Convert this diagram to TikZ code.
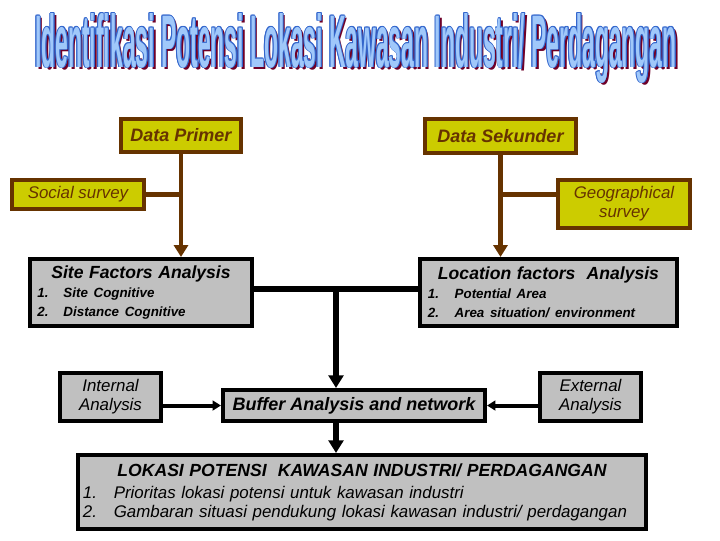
\documentclass[tikz,border=0pt]{standalone}
\usepackage{fontspec}
\usepackage{graphicx}
\setmainfont{Liberation Sans}
\usetikzlibrary{arrows.meta,positioning}

\definecolor{coklat}{RGB}{102,51,0}
\definecolor{kuningbox}{RGB}{204,204,0}
\definecolor{abubox}{RGB}{192,192,192}
\definecolor{judulisi}{RGB}{160,200,250}
\definecolor{judultepi}{RGB}{51,102,204}
\definecolor{judulbayang}{RGB}{110,0,40}

\newcommand{\judul}{\resizebox{456pt}{38.4pt}{\bfseries Identifikasi Potensi Lokasi Kawasan Industri/ Perdagangan}}
% satu lapis judul, digeser #1 ke kanan dan #2 ke atas
\newcommand{\lapis}[3]{\makebox[0pt][l]{\hspace{#1}\raisebox{#2}{\textcolor{#3}{\judul}}}}

\begin{document}
\begin{tikzpicture}[x=0.025cm,y=-0.025cm,
    kuning/.style={draw=coklat,fill=kuningbox,line width=2.85pt,text=coklat,inner sep=0pt,align=center,font=\itshape\fontsize{12}{13.5}\selectfont},
    abu/.style={draw=black,fill=abubox,line width=2.85pt,inner sep=0pt,align=center,font=\itshape\fontsize{12}{13.5}\selectfont},
    daftar/.style={abu,align=left,inner ysep=0pt},
    garis coklat/.style={coklat,line width=3.5pt},
    garis hitam/.style={black,line width=4.3pt},
    panah coklat/.style={garis coklat,-{Triangle[width=10pt,length=8.5pt]}},
    panah hitam/.style={garis hitam,-{Triangle[width=10.5pt,length=9pt]}},
    panah tipis/.style={black,line width=2.85pt,-{Triangle[width=7pt,length=6pt]}}]
\useasboundingbox (0,0) rectangle (720,540);

% judul
\node[anchor=base west,inner sep=0pt] (judul) at (35,67)
  {\lapis{1.8pt}{-1.8pt}{judulbayang}\lapis{-0.6pt}{0pt}{judultepi}\lapis{0.6pt}{0pt}{judultepi}%
   \lapis{0pt}{0.6pt}{judultepi}\lapis{0pt}{-0.6pt}{judultepi}\lapis{0.45pt}{0.45pt}{judultepi}%
   \lapis{-0.45pt}{-0.45pt}{judultepi}\lapis{0.45pt}{-0.45pt}{judultepi}\lapis{-0.45pt}{0.45pt}{judultepi}%
   \textcolor{judulisi}{\judul}};

% data
\node[kuning,minimum width=3.0cm,minimum height=0.825cm,font=\itshape\bfseries\fontsize{12.8}{15}\selectfont] (dp) at (181,135.5) {Data Primer};
\node[kuning,minimum width=3.775cm,minimum height=0.85cm,font=\itshape\bfseries\fontsize{12.8}{15}\selectfont] (ds) at (500.5,136) {Data Sekunder};
\node[kuning,minimum width=3.3cm,minimum height=0.725cm] (ss) at (78,194.5) {Social survey};
\node[kuning,minimum width=3.3cm,minimum height=1.2cm] (gs) at (624,204) {Geographical\\survey};

% analisis
\node[daftar,minimum height=1.675cm,inner xsep=0.175cm,text width=5.175cm] (sf) at (141,292.5)
  {{\centering\fontsize{12.5}{15}\selectfont\bfseries Site Factors Analysis\par}
   \fontsize{9.5}{13.5}\selectfont\bfseries
   \makebox[18.5pt][l]{1.}Site Cognitive\par
   \makebox[18.5pt][l]{2.}Distance Cognitive};
\node[daftar,minimum height=1.675cm,inner xsep=0.2cm,text width=6.025cm] (lf) at (548.5,292.5)
  {{\centering\fontsize{12.5}{15}\selectfont\bfseries Location factors\ \ Analysis\par}
   \fontsize{9.5}{13.5}\selectfont\bfseries
   \makebox[19pt][l]{1.}Potential Area\par
   \makebox[19pt][l]{2.}Area situation/ environment};
\node[abu,minimum width=2.525cm,minimum height=1.2cm] (ia) at (110.5,397) {Internal\\Analysis};
\node[abu,minimum width=2.525cm,minimum height=1.2cm] (ea) at (590.5,397) {External\\Analysis};
\node[abu,minimum width=6.55cm,minimum height=0.775cm,font=\itshape\bfseries\fontsize{12.8}{15}\selectfont] (ba) at (354,405.5) {Buffer Analysis and network};
\node[daftar,minimum height=1.85cm,inner xsep=0.125cm,text width=13.95cm] (lk) at (362,492)
  {{\centering\fontsize{12.5}{15}\selectfont\bfseries LOKASI POTENSI\ \ KAWASAN INDUSTRI/ PERDAGANGAN\par}
   \fontsize{12}{15.6}\selectfont
   \makebox[22pt][l]{1.}Prioritas lokasi potensi untuk kawasan industri\par
   \makebox[22pt][l]{2.}Gambaran situasi pendukung lokasi kawasan industri/ perdagangan};

% penghubung
\coordinate (tengah) at (336,289);
\draw[garis coklat] (ss.east) -- (ss.east -| dp.south);
\draw[garis coklat] (ds.south |- ss.east) -- (gs.west |- ss.east);
\draw[panah coklat] (dp.south) -- (dp.south |- sf.north);
\draw[panah coklat] (ds.south) -- (ds.south |- lf.north);
\draw[garis hitam] (sf.east |- tengah) -- (lf.west |- tengah);
\draw[panah hitam] (tengah) -- (tengah |- ba.north);
\draw[panah hitam] (tengah |- ba.south) -- (tengah |- lk.north);
\draw[panah tipis] (ia.east |- ba.west) -- (ba.west);
\draw[panah tipis] (ea.west |- ba.east) -- (ba.east);
\end{tikzpicture}
\end{document}
